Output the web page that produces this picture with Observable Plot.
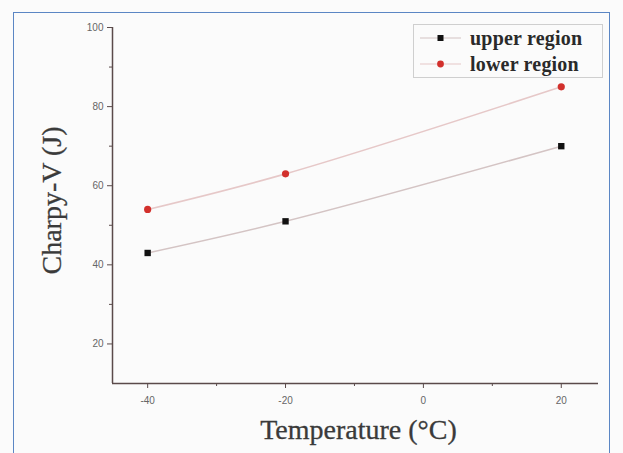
<!DOCTYPE html>
<html>
<head>
<meta charset="utf-8">
<script src="https://cdn.jsdelivr.net/npm/d3@7"></script>
<script src="https://cdn.jsdelivr.net/npm/@observablehq/plot@0.6"></script>
<style>
  html, body { margin: 0; padding: 0; background: #fbfbfb; }
  #wrap { position: relative; width: 623px; height: 453px; overflow: hidden; }
  #frame { position: absolute; left: 13px; top: 12px; width: 597px; height: 460px; border: 1.5px solid #5b86c4; box-sizing: border-box; pointer-events: none; }
  #legend { position: absolute; left: 413px; top: 24px; width: 190px; height: 54px; border: 1px solid #cfcfcf; background: #fbfbfb; box-sizing: border-box; font-family: "Liberation Serif", "DejaVu Serif", serif; font-weight: bold; font-size: 20px; color: #2a2a2a; }
  .row { position: absolute; left: 0; height: 26px; display: flex; align-items: center; }
  .row svg { margin-left: 4px; }
  .row span { margin-left: 7px; letter-spacing: 0.2px; }
</style>
</head>
<body>
<div id="wrap">
  <div id="chart"></div>
  <div id="legend"></div>
  <div id="frame"></div>
</div>
<script>
const temperatures = [-40, -20, 20];
const upperRegion = [43, 51, 70];
const lowerRegion = [54, 63, 85];
const seriesNames = ["upper region", "lower region"];
const xMajorTicks = [-40, -20, 0, 20];
const xMinorTicks = [-30, -10, 10];
const yMajorTicks = [20, 40, 60, 80, 100];
const yMinorTicks = [30, 50, 70, 90];

const upperData = temperatures.map((t, i) => ({t, v: upperRegion[i]}));
const lowerData = temperatures.map((t, i) => ({t, v: lowerRegion[i]}));

const axisColor = "#5a4a4a";
const upperLine = "#d4c4c4";
const lowerLine = "#e6c8c8";
const upperFill = "#111";
const lowerFill = "#d2302c";
const serif = "'Liberation Serif', 'DejaVu Serif', serif";

const plot = Plot.plot({
  width: 623,
  height: 453,
  marginLeft: 112,
  marginRight: 25,
  marginTop: 27,
  marginBottom: 70,
  style: {background: "transparent", fontFamily: "'Liberation Sans', Arial, sans-serif"},
  x: {domain: [-45.1, 25.4]},
  y: {domain: [10, 100]},
  marks: [
    Plot.ruleY([10], {stroke: axisColor, strokeWidth: 1.5}),
    Plot.ruleX([-45.1], {stroke: axisColor, strokeWidth: 1.5}),
    Plot.axisX({ticks: xMajorTicks, tickSize: 5, tickPadding: 8, fontSize: 10, color: "#666", stroke: axisColor, label: null, tickFormat: d => String(d)}),
    Plot.axisX({ticks: xMinorTicks, tickSize: 3, tickFormat: () => "", stroke: axisColor, label: null}),
    Plot.axisY({ticks: yMajorTicks, tickSize: 5, tickPadding: 4, fontSize: 10, color: "#666", stroke: axisColor, label: null, tickFormat: d => String(d)}),
    Plot.axisY({ticks: yMinorTicks, tickSize: 3, tickFormat: () => "", stroke: axisColor, label: null}),
    Plot.line(upperData, {x: "t", y: "v", curve: "catmull-rom", stroke: upperLine, strokeWidth: 1.6}),
    Plot.line(lowerData, {x: "t", y: "v", curve: "catmull-rom", stroke: lowerLine, strokeWidth: 1.6}),
    Plot.dot(upperData, {x: "t", y: "v", symbol: "square", r: 3.6, fill: upperFill, stroke: "none"}),
    Plot.dot(lowerData, {x: "t", y: "v", symbol: "circle", r: 3.6, fill: lowerFill, stroke: "none"}),
    Plot.text(["Temperature (°C)"], {frameAnchor: "bottom", dx: 3, dy: 55, fontSize: 28, fontFamily: serif, fill: "#3a3a3a", stroke: "#3a3a3a", strokeWidth: 0.3, text: d => d}),
    Plot.text(["Charpy-V (J)"], {frameAnchor: "left", textAnchor: "middle", dx: -60, dy: -5, rotate: -90, fontSize: 28, fontFamily: serif, fill: "#3a3a3a", stroke: "#3a3a3a", strokeWidth: 0.3, text: d => d})
  ]
});
document.getElementById("chart").appendChild(plot);

// legend
const legend = document.getElementById("legend");
const legendStyles = [
  {line: upperLine, fill: upperFill, square: true},
  {line: lowerLine, fill: lowerFill, square: false}
];
seriesNames.forEach((name, i) => {
  const s = legendStyles[i];
  const row = document.createElement("div");
  row.className = "row";
  row.style.top = (0 + i * 26) + "px";
  const marker = s.square
    ? `<rect x="19.5" y="9" width="6" height="6" fill="${s.fill}"/>`
    : `<circle cx="22.5" cy="12" r="3.4" fill="${s.fill}"/>`;
  row.innerHTML = `<svg width="45" height="24"><line x1="2" x2="43" y1="12" y2="12" stroke="${s.line}" stroke-width="1.2"/>${marker}</svg><span>${name}</span>`;
  legend.appendChild(row);
});
</script>
</body>
</html>
